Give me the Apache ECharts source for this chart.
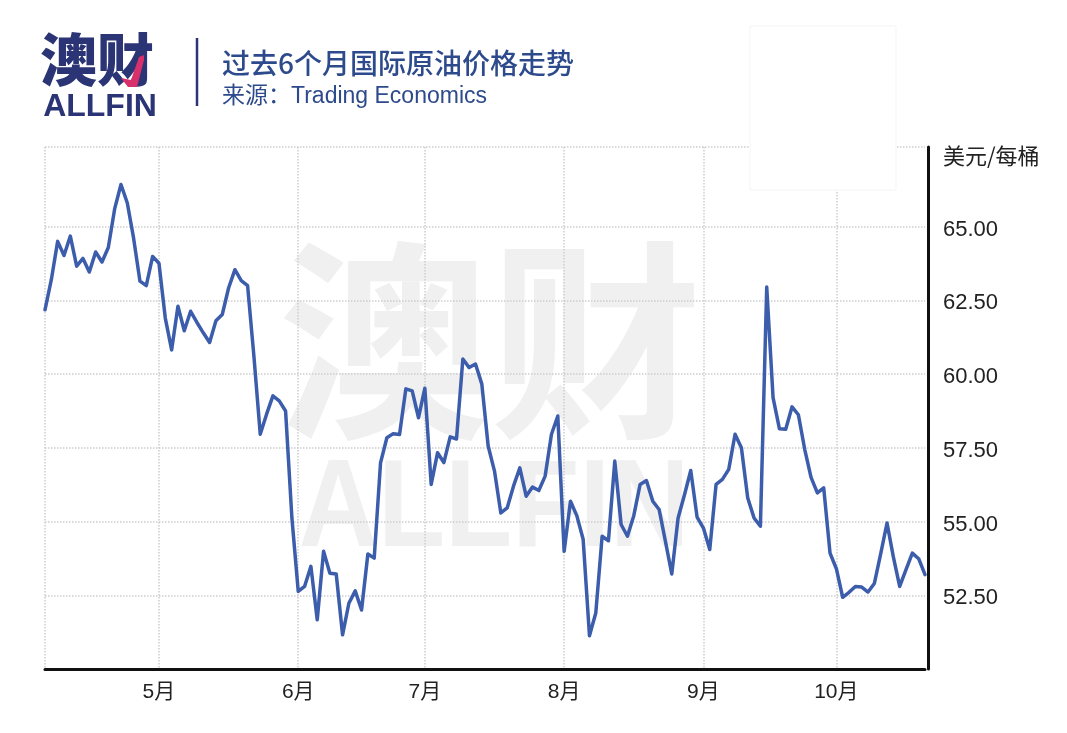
<!DOCTYPE html>
<html>
<head>
<meta charset="utf-8">
<script src="https://cdn.jsdelivr.net/npm/echarts@6/dist/echarts.min.js"></script>
<style>
html,body{margin:0;padding:0;background:#fff;}
#chart{width:1067px;height:733px;}
</style>
</head>
<body>
<div id="chart"></div>
<script>
// ---- data ----
const dates = [
'04-04','04-05','04-08','04-09','04-10','04-11','04-12','04-15','04-16','04-17','04-18','04-22','04-23','04-24','04-25','04-26','04-29','04-30',
'05-01','05-02','05-03','05-06','05-07','05-08','05-09','05-10','05-13','05-14','05-15','05-16','05-17','05-20','05-21','05-22','05-23','05-24','05-28','05-29','05-30','05-31',
'06-03','06-04','06-05','06-06','06-07','06-10','06-11','06-12','06-13','06-14','06-17','06-18','06-19','06-20','06-21','06-24','06-25','06-26','06-27','06-28',
'07-01','07-02','07-03','07-05','07-08','07-09','07-10','07-11','07-12','07-15','07-16','07-17','07-18','07-19','07-22','07-23','07-24','07-25','07-26','07-29','07-30','07-31',
'08-01','08-02','08-05','08-06','08-07','08-08','08-09','08-12','08-13','08-14','08-15','08-16','08-19','08-20','08-21','08-22','08-23','08-26','08-27','08-28','08-29','08-30',
'09-02','09-03','09-04','09-05','09-06','09-09','09-10','09-11','09-12','09-13','09-16','09-17','09-18','09-19','09-20','09-23','09-24','09-25','09-26','09-27','09-30',
'10-01','10-02','10-03','10-04','10-07','10-08','10-09','10-10','10-11','10-14','10-15','10-16','10-17','10-18','10-21'
];
const pricesApr = [62.18,63.2,64.5,64.02,64.68,63.66,63.92,63.46,64.14,63.8,64.29,65.6,66.43,65.8,64.6,63.15,63.0,63.99];
const pricesMay = [63.76,61.9,60.82,62.3,61.47,62.13,61.75,61.4,61.07,61.81,62.02,62.92,63.54,63.17,63.0,60.6,57.96,58.64,59.26,59.09,58.75,55.12];
const pricesJun = [52.63,52.8,53.48,51.67,53.99,53.25,53.22,51.16,52.23,52.65,52.0,53.9,53.76,56.99,57.84,57.98,57.95,59.5,59.43,58.52];
const pricesJul = [59.52,56.26,57.33,57.0,57.87,57.8,60.51,60.22,60.34,59.66,57.56,56.71,55.29,55.46,56.2,56.82,55.86,56.17,56.05,56.54,57.96,58.58];
const pricesAug = [53.99,55.69,55.2,54.4,51.13,51.9,54.5,54.35,57.05,54.9,54.5,55.2,56.26,56.39,55.69,55.41,54.33,53.22,55.12,55.9,56.73,55.15];
const pricesSep = [54.78,54.05,56.26,56.43,56.77,57.96,57.5,55.8,55.12,54.84,62.95,59.2,58.15,58.13,58.89,58.62,57.45,56.5,55.97,56.14,53.93];
const pricesOct = [53.4,52.43,52.6,52.8,52.78,52.61,52.9,53.9,54.95,53.8,52.8,53.37,53.93,53.74,53.2];
const monthStarts = ['05-01','06-03','07-01','08-01','09-02','10-01'];
const monthLabels = ['5月','6月','7月','8月','9月','10月'];
const yLabelValues = [52.5,55,57.5,60,62.5,65,67.5];
const yGridValues = [50,52.5,55,57.5,60,62.5,65,67.7];
const unitLabel = '美元/每桶';
const titleText = '过去6个月国际原油价格走势';
const subtitleText = '来源：Trading Economics';
const logoText = '澳财';
const logoLatin = 'ALLFIN';

const prices = [].concat(pricesApr, pricesMay, pricesJun, pricesJul, pricesAug, pricesSep, pricesOct);

const NAVY = '#2b3576';
const TITLE = '#2d4a8c';
const LATIN = '"Liberation Sans", "Noto Sans CJK SC", sans-serif';
const CJK = '"Noto Sans CJK SC", "Liberation Sans", sans-serif';

const chart = echarts.init(document.getElementById('chart'), null, {renderer: 'canvas'});
chart.setOption({
  animation: false,
  backgroundColor: '#ffffff',
  grid: {left: 45, right: 142, top: 147, bottom: 64, containLabel: false},
  xAxis: {
    type: 'category',
    data: dates,
    boundaryGap: false,
    axisLine: {show: true, lineStyle: {color: '#111', width: 3}},
    axisTick: {show: false},
    axisLabel: {
      interval: function (i, v) { return monthStarts.indexOf(v) >= 0; },
      formatter: function (v) { const k = monthStarts.indexOf(v); return k >= 0 ? monthLabels[k] : ''; },
      fontSize: 21, color: '#222', margin: 13, fontFamily: LATIN
    },
    splitLine: {
      show: true,
      interval: function (i, v) { return i === 0 || monthStarts.indexOf(v) >= 0; },
      lineStyle: {type: 'dotted', color: '#cdcdcd', width: 1.5}
    }
  },
  yAxis: {
    type: 'value',
    position: 'right',
    offset: 3,
    min: 50,
    max: 67.7,
    axisLine: {show: true, lineStyle: {color: '#111', width: 3}},
    axisTick: {show: false, customValues: yGridValues},
    axisLabel: {
      customValues: yLabelValues,
      formatter: function (v) { return Math.abs(v - 67.5) < 1e-6 ? '{u|' + unitLabel + '}' : v.toFixed(2); },
      rich: {u: {fontSize: 22, color: '#222', fontFamily: CJK}},
      fontSize: 22, color: '#222', margin: 15, fontFamily: LATIN,
      padding: [6, 0, 0, 0]
    },
    splitLine: {show: true, lineStyle: {type: 'dotted', color: '#cdcdcd', width: 1.5}}
  },
  series: [{
    type: 'line',
    data: prices,
    showSymbol: false,
    symbol: 'none',
    smooth: false,
    z: 5,
    lineStyle: {color: '#3c5dab', width: 3.5, cap: 'round', join: 'round'}
  }],
  graphic: [
    // watermark
    {type: 'text', z: -1, x: 278, y: 341,
     style: {text: logoText, font: 'bold 212px ' + CJK, fill: '#f0f0f0', textAlign: 'left', textVerticalAlign: 'middle'}},
    {type: 'text', z: -1, x: 494, y: 512, scaleX: 0.88,
     style: {text: logoLatin, font: 'bold 125px ' + LATIN, fill: '#f0f0f0', textAlign: 'center', textVerticalAlign: 'middle'}},
    // white patch top right
    {type: 'rect', z: 10, shape: {x: 750, y: 26, width: 146, height: 164},
     style: {fill: '#ffffff', stroke: '#f5f5f5', lineWidth: 1}},
    // logo
    {type: 'text', z: 20, x: 40, y: 59,
     style: {text: logoText, font: '900 57px ' + CJK, fill: NAVY, textAlign: 'left', textVerticalAlign: 'middle'}},
    {type: 'polygon', z: 21, shape: {points: [[121, 78], [128, 87], [137, 87], [144, 60], [144, 55], [139, 57], [131, 80]]},
     style: {fill: '#d8306a'}},
    {type: 'text', z: 20, x: 100, y: 107,
     style: {text: logoLatin, font: 'bold 32px ' + LATIN, fill: NAVY, textAlign: 'center', textVerticalAlign: 'middle'}},
    {type: 'line', z: 20, shape: {x1: 197, y1: 38, x2: 197, y2: 106},
     style: {stroke: NAVY, lineWidth: 2.5}},
    // title
    {type: 'text', z: 20, x: 222, y: 63,
     style: {text: titleText, font: '500 28px ' + CJK, fill: TITLE, textAlign: 'left', textVerticalAlign: 'middle'}},
    {type: 'text', z: 20, x: 222, y: 97,
     style: {text: subtitleText, font: '23px ' + LATIN, fill: TITLE, textAlign: 'left', textVerticalAlign: 'middle'}}
  ]
});
</script>
</body>
</html>
